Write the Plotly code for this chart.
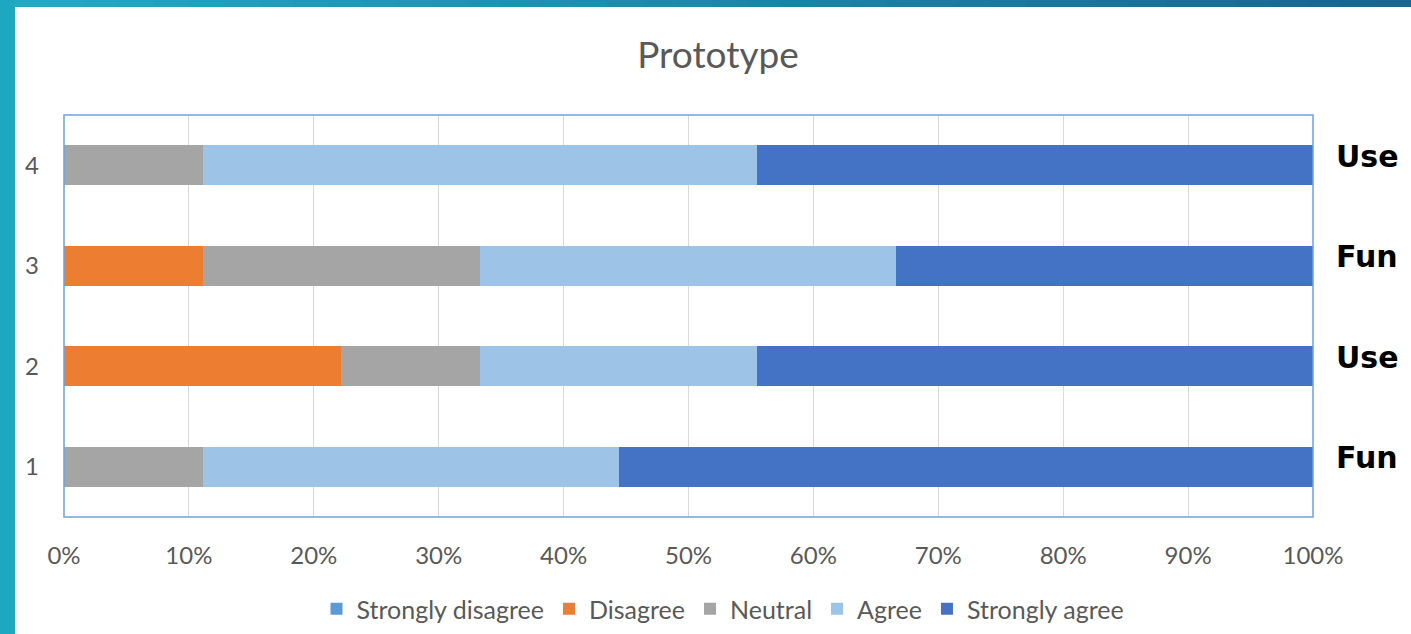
import plotly.graph_objects as go

categories = [1, 2, 3, 4]
labels_right = ["Fun", "Use", "Fun", "Use"]
series_names = ["Strongly disagree", "Disagree", "Neutral", "Agree", "Strongly agree"]
strongly_disagree = [0.0, 0.0, 0.0, 0.0]
disagree = [0.0, 22.2, 11.1, 0.0]
neutral = [11.1, 11.1, 22.2, 11.1]
agree = [33.3, 22.2, 33.3, 44.4]
strongly_agree = [55.6, 44.5, 33.4, 44.5]
colors = ["#5B9BD5", "#ED7D31", "#A5A5A5", "#9DC3E6", "#4472C4"]
x_ticks = list(range(0, 101, 10))

W, H = 1411, 634
L, R, T, B = 64, 98, 115, 117
pw, ph = W - L - R, H - T - B

def px(x):
    return (x - L) / pw

def py(y):
    return (H - B - y) / ph

fig = go.Figure()
for name, vals, c in zip(series_names, [strongly_disagree, disagree, neutral, agree, strongly_agree], colors):
    fig.add_trace(go.Bar(y=categories, x=vals, name=name, orientation="h",
                         marker=dict(color=c, line=dict(width=0))))

shapes = []
# left teal strip
shapes.append(dict(type="rect", xref="paper", yref="paper", x0=px(-5), x1=px(15),
                   y0=py(H + 5), y1=py(-5), fillcolor="#1DA7C1", line=dict(width=0), layer="below"))
# top gradient band
n = 40
c0 = (0x1F, 0xAA, 0xC4)
c1 = (0x17, 0x66, 0x90)
for i in range(n):
    t = i / (n - 1)
    col = "rgb(%d,%d,%d)" % tuple(round(a + (b - a) * t) for a, b in zip(c0, c1))
    shapes.append(dict(type="rect", xref="paper", yref="paper",
                       x0=px(15 + (W - 15) * i / n - 1), x1=px(15 + (W - 15) * (i + 1) / n + 1),
                       y0=py(7), y1=py(-5), fillcolor=col, line=dict(width=0), layer="below"))
# plot area border
shapes.append(dict(type="rect", xref="paper", yref="paper", x0=0, x1=1, y0=0, y1=1,
                   line=dict(color="#6FA3DC", width=1.5), layer="above"))

annotations = []
for cat, lab in zip(categories, labels_right):
    annotations.append(dict(x=px(1334), y=cat, xref="paper", yref="y", text="<b>%s</b>" % lab,
                            showarrow=False, xanchor="left", yshift=9,
                            font=dict(family="DejaVu Sans, sans-serif", size=30, color="black")))

fig.update_layout(
    barmode="stack",
    bargap=0.6,
    width=W, height=H,
    margin=dict(l=L, r=R, t=T, b=B, pad=0, autoexpand=False),
    paper_bgcolor="white",
    plot_bgcolor="white",
    title=dict(text="Prototype", x=718 / W, xref="container", xanchor="center",
               y=1 - 55 / H, yanchor="middle",
               font=dict(family="Lato, Open Sans, sans-serif", size=37, color="#595959")),
    font=dict(family="Lato, Open Sans, sans-serif", size=24, color="#595959"),
    xaxis=dict(range=[0, 100], tickvals=x_ticks, ticktext=["%d%%" % v for v in x_ticks],
               showgrid=True, gridcolor="#D9D9D9", gridwidth=1.2, zeroline=False,
               ticks="", ticklabelstandoff=22, tickfont=dict(size=24, color="#595959"),
               showline=False, fixedrange=True),
    yaxis=dict(range=[0.5, 4.5], tickvals=categories, ticktext=[str(c) for c in categories],
               showgrid=False, zeroline=False, ticks="",
               ticklabelstandoff=24, tickfont=dict(size=24, color="#595959"), showline=False),
    legend=dict(orientation="h", x=723 / W, xref="container", xanchor="center",
                y=(H - 609) / H, yref="container", yanchor="middle",
                font=dict(size=25, color="#595959"), itemwidth=30, traceorder="normal",
                bgcolor="rgba(0,0,0,0)"),
    shapes=shapes,
    annotations=annotations,
    showlegend=True,
)
fig.write_html("out.html")
